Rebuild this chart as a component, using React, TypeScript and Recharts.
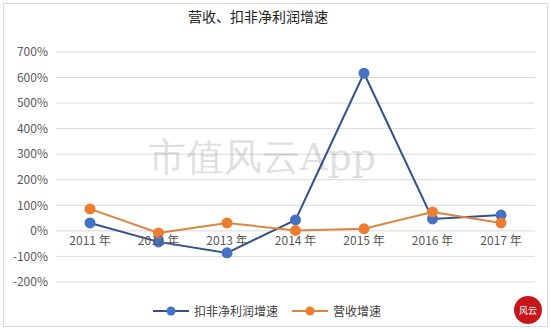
import React from 'react';
import { LineChart, Line, XAxis, YAxis, CartesianGrid } from 'recharts';

const years = ['2011 年', '2012 年', '2013 年', '2014 年', '2015 年', '2016 年', '2017 年'];
const profitGrowth = [31, -43, -86, 43, 617, 47, 62];
const revenueGrowth = [86, -8, 31, 2, 8, 74, 31];
const yTicks = [-200, -100, 0, 100, 200, 300, 400, 500, 600, 700];

const BLUE = '#4472C4';
const BLUE_LINE = '#34528C';
const ORANGE = '#ED7D31';
const ORANGE_LINE = '#DC8440';
const FONT = '"Noto Sans CJK SC", "Noto Sans", sans-serif';

const data = years.map((year, i) => ({
  year,
  profit: profitGrowth[i],
  revenue: revenueGrowth[i],
}));

function YearTick({ x, y, payload }: any) {
  // labels sit just under the 0% line, like the Excel original
  return (
    <text x={x} y={y - 45} textAnchor="middle" fontSize={12} fill="#595959" fontFamily={FONT}>
      {payload.value}
    </text>
  );
}

function ChartLegend() {
  const items = [
    { label: '扣非净利润增速', color: BLUE, line: BLUE_LINE },
    { label: '营收增速', color: ORANGE, line: ORANGE_LINE },
  ];
  return (
    <div style={{ position: 'absolute', left: 153, top: 302, display: 'flex', gap: 14, fontFamily: FONT, fontSize: 12, color: '#404040' }}>
      {items.map(it => (
        <div key={it.label} style={{ display: 'flex', alignItems: 'center', gap: 5 }}>
          <svg width={36} height={12}>
            <line x1={0} y1={6} x2={36} y2={6} stroke={it.line} strokeWidth={2} />
            <circle cx={18} cy={6} r={4.5} fill={it.color} />
          </svg>
          <span>{it.label}</span>
        </div>
      ))}
    </div>
  );
}

export default function App() {
  return (
    <div style={{ position: 'fixed', left: 0, top: 0, width: 550, height: 329, background: '#fff', overflow: 'hidden' }}>
      <div style={{ position: 'absolute', left: 3, top: 3, width: 543, height: 322, border: '1px solid #d9d9d9' }} />
      <div style={{ position: 'absolute', top: 6, left: 0, width: 516, textAlign: 'center', fontFamily: FONT, fontSize: 14, color: '#222' }}>
        营收、扣非净利润增速
      </div>
      <LineChart width={550} height={329} data={data} margin={{ top: 52, right: 15, bottom: 17, left: 0 }}>
        <CartesianGrid vertical={false} stroke="#d9d9d9" />
        <XAxis dataKey="year" axisLine={false} tickLine={false} tick={<YearTick />} interval={0}
          padding={{ left: 34, right: 34 }} height={30} />
        <YAxis
          width={56}
          domain={[-200, 700]}
          ticks={yTicks}
          interval={0}
          axisLine={false}
          tickLine={false}
          tickFormatter={(v: number) => `${v}%`}
          tick={{ fontSize: 12, fill: '#595959', fontFamily: FONT }}
        />
        <Line type="linear" dataKey="profit" name="扣非净利润增速" stroke={BLUE_LINE} strokeWidth={2}
          dot={{ r: 4.5, fill: BLUE, stroke: BLUE }} isAnimationActive={false} />
        <Line type="linear" dataKey="revenue" name="营收增速" stroke={ORANGE_LINE} strokeWidth={2}
          dot={{ r: 4.5, fill: ORANGE, stroke: ORANGE }} isAnimationActive={false} />
      </LineChart>
      <ChartLegend />
      <div style={{ position: 'absolute', left: 148, top: 132, fontFamily: '"DejaVu Serif", serif', fontSize: 38, color: '#000', opacity: 0.12, pointerEvents: 'none', whiteSpace: 'nowrap' }}>
        市值风云App
      </div>
      <div style={{ position: 'absolute', left: 514, top: 296, width: 28, height: 28, borderRadius: '50%', background: '#c8161d', color: '#fff', fontSize: 9, lineHeight: '11px', textAlign: 'center', fontFamily: FONT, display: 'flex', alignItems: 'center', justifyContent: 'center' }}>
        风云
      </div>
    </div>
  );
}
